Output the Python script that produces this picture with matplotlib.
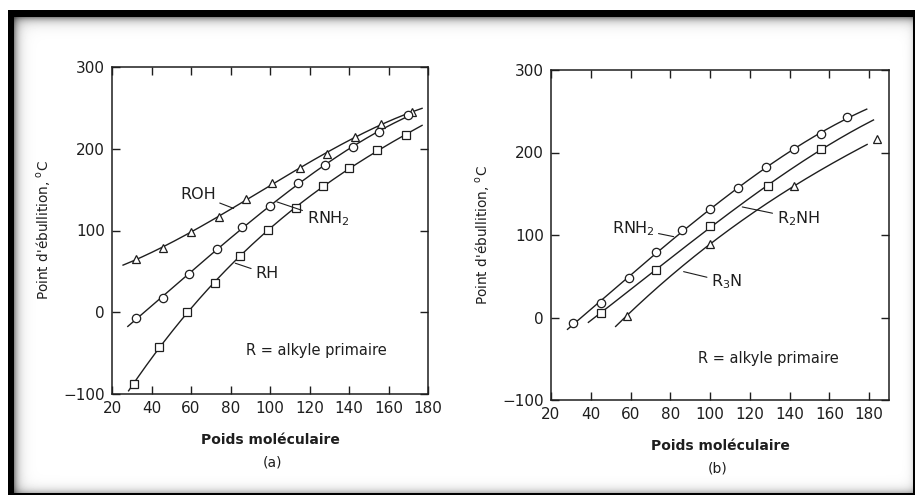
import numpy as np
import matplotlib
matplotlib.use("Agg")
import matplotlib.pyplot as plt

plt.rcParams['font.family'] = ['DejaVu Sans']
plt.rcParams['mathtext.fontset'] = 'dejavusans'

# ---------------- data: panel (a) ----------------
a_roh_x = [32, 46, 60, 74, 88, 101, 115, 129, 143, 156, 172]
a_roh_y = [65, 79, 98, 117, 138, 158, 176, 194, 214, 230, 245]
a_rnh2_x = [32, 46, 59, 73, 86, 100, 114, 128, 142, 155, 170]
a_rnh2_y = [-7, 17, 47, 77, 104, 130, 158, 180, 202, 220, 241]
a_rh_x = [31, 44, 58, 72, 85, 99, 113, 127, 140, 154, 169]
a_rh_y = [-88, -42, 0, 36, 69, 101, 127, 154, 176, 198, 217]
a_curve_range = {"ROH": (25.6, 177), "RNH2": (28, 172), "RH": (28.4, 177)}

# ---------------- data: panel (b) ----------------
b_rnh2_x = [31, 45, 59, 73, 86, 100, 114, 128, 142, 156, 169]
b_rnh2_y = [-7, 18, 48, 79, 106, 131, 157, 182, 204, 222, 243]
b_r2nh_x = [45, 73, 100, 129, 156]
b_r2nh_y = [6, 57, 111, 159, 204]
b_r3n_x = [58, 100, 142, 184]
b_r3n_y = [2, 89, 159, 216]
b_curve_range = {"RNH2": (28.3, 178.8), "R2NH": (38.8, 182.2), "R3N": (52.5, 179)}

x_ticks = [20, 40, 60, 80, 100, 120, 140, 160, 180]
y_ticks = [-100, 0, 100, 200, 300]

INK = '#1e1e1e'

W, H = 915, 495
fig = plt.figure(figsize=(W / 100, H / 100), dpi=100)
fig.patch.set_facecolor('white')

# ---- scanned-frame background (black border with inner shadow) ----
bg = fig.add_axes([0, 0, 1, 1], zorder=-10)
yy, xx = np.mgrid[0:H, 0:W]
img = np.ones((H, W))
inside = (xx >= 14) & (xx < 913) & (yy >= 17) & (yy < 493)
d_top = (yy - 17).astype(float)
d_left = (xx - 14).astype(float)
d_bot = (493 - yy).astype(float)
d_right = (913 - xx).astype(float)
shade = (1 - 0.45 * np.exp(-d_top / 4.5)) * (1 - 0.45 * np.exp(-d_left / 4.5)) \
    * (1 - 0.35 * np.exp(-d_bot / 4.0)) * (1 - 0.15 * np.exp(-d_right / 3.0))
img[inside] = shade[inside]
band = ((xx >= 8) & (yy >= 10)) & ~inside
img[band] = 0.0
bg.imshow(img, cmap='gray', vmin=0, vmax=1, aspect='auto', interpolation='bilinear')
bg.set_axis_off()


def curve(ax, xs, ys, rng, marker):
    coef = np.polyfit(xs, ys, 3)
    xf = np.linspace(rng[0], rng[1], 300)
    ax.plot(xf, np.polyval(coef, xf), color=INK, lw=1.0, zorder=2)
    ax.plot(xs, ys, linestyle='none', marker=marker, ms=6, mfc='white',
            mec=INK, mew=0.9, zorder=3)


def style(ax, xmax):
    ax.set_xlim(20, xmax)
    ax.set_ylim(-100, 300)
    ax.set_xticks(x_ticks)
    ax.set_yticks(y_ticks)
    ax.tick_params(direction='in', top=True, right=True, length=6, width=1.0,
                   labelsize=11, colors=INK, pad=5)
    for s in ax.spines.values():
        s.set_linewidth(1.1)
        s.set_color(INK)
    ax.set_ylabel("Point d'ébullition, $^{\\mathrm{o}}$C", fontsize=9.8, color=INK, labelpad=8)
    ax.set_xlabel("Poids moléculaire", fontsize=10, fontweight='bold', color=INK, labelpad=12)


def label(ax, text, xy_text, xy_line_end, ha='left'):
    ax.annotate(text, xy=xy_line_end, xytext=xy_text, textcoords='data',
                fontsize=11.5, color=INK, ha=ha, va='center',
                arrowprops=dict(arrowstyle='-', color=INK, lw=0.8,
                                shrinkA=1, shrinkB=0))


# ---------------- panel (a) ----------------
axa = fig.add_axes([112 / W, 1 - 394 / H, 316 / W, 327 / H])
curve(axa, a_roh_x, a_roh_y, a_curve_range["ROH"], '^')
curve(axa, a_rnh2_x, a_rnh2_y, a_curve_range["RNH2"], 'o')
curve(axa, a_rh_x, a_rh_y, a_curve_range["RH"], 's')
style(axa, 180)
label(axa, "ROH", (72.5, 144), (81.6, 127), ha='right')
label(axa, "RNH$_2$", (118.5, 114), (103.5, 135), ha='left')
label(axa, "RH", (92.5, 47), (82.4, 60), ha='left')
axa.text(88, -47, "R = alkyle primaire", fontsize=10.5, color=INK, va='center')
fig.text(273 / W, 1 - 462 / H, "(a)", fontsize=10, color=INK, ha='center', va='center')

# ---------------- panel (b) ----------------
axb = fig.add_axes([551 / W, 1 - 400 / H, 338 / W, 330 / H])
curve(axb, b_rnh2_x, b_rnh2_y, b_curve_range["RNH2"], 'o')
curve(axb, b_r2nh_x, b_r2nh_y, b_curve_range["R2NH"], 's')
curve(axb, b_r3n_x, b_r3n_y, b_curve_range["R3N"], '^')
style(axb, 190)
label(axb, "RNH$_2$", (72, 108), (81.7, 98), ha='right')
label(axb, "R$_2$NH", (133.5, 120), (116.2, 134), ha='left')
label(axb, "R$_3$N", (100.5, 43), (86.7, 55.6), ha='left')
axb.text(94, -50, "R = alkyle primaire", fontsize=10.5, color=INK, va='center')
fig.text(718 / W, 1 - 468 / H, "(b)", fontsize=10, color=INK, ha='center', va='center')

fig.savefig("out.png", dpi=100)
